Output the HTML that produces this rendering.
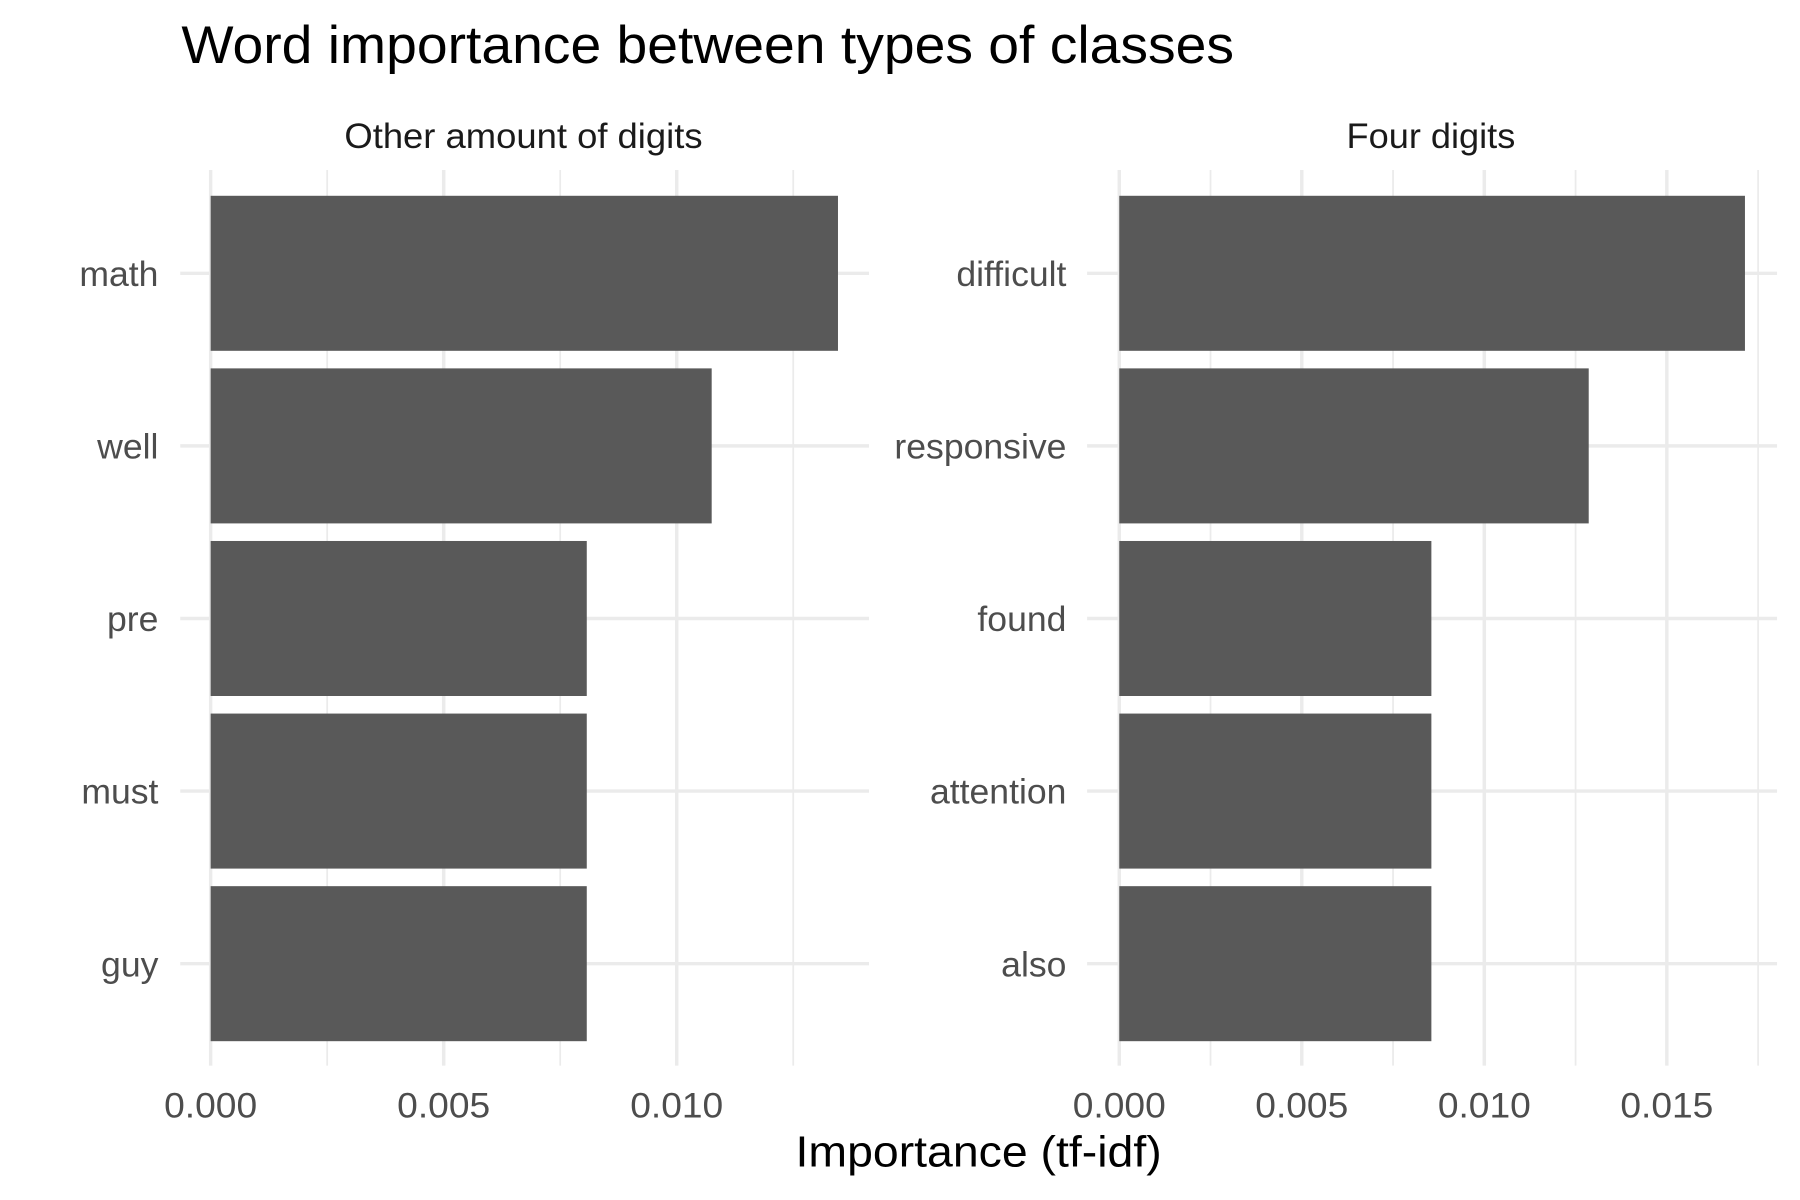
<!DOCTYPE html>
<html><head><meta charset="utf-8"><style>
html,body{margin:0;padding:0;background:#fff;}
svg{display:block;font-family:"Liberation Sans",Arial,sans-serif;}
</style></head><body>
<svg id="chart" width="1800" height="1200" viewBox="0 0 1568 1045" preserveAspectRatio="none" xmlns="http://www.w3.org/2000/svg">
<rect width="1568" height="1045" fill="#fff"/>
<text x="158" y="55" font-size="46" textLength="917" lengthAdjust="spacingAndGlyphs" fill="#000">Word importance between types of classes</text>
<text x="693" y="1016" font-size="38" textLength="319" lengthAdjust="spacingAndGlyphs" fill="#000">Importance (tf-idf)</text>
<g id="panels"></g>
</svg>
<script>
const leftWords = ["math","well","pre","must","guy"];
const leftValues = [0.01346,0.01075,0.00807,0.00807,0.00807];
const rightWords = ["difficult","responsive","found","attention","also"];
const rightValues = [0.01714,0.01286,0.00855,0.00855,0.00855];
const leftTicks = [0,0.005,0.010];
const leftTickLabels = ["0.000","0.005","0.010"];
const rightTicks = [0,0.005,0.010,0.015];
const rightTickLabels = ["0.000","0.005","0.010","0.015"];
const leftMinor = [0.0025,0.0075,0.0125];
const rightMinor = [0.0025,0.0075,0.0125,0.0175];

const NS="http://www.w3.org/2000/svg";
const root=document.getElementById('panels');
function mk(tag,attrs,parent){const e=document.createElementNS(NS,tag);for(const k in attrs)e.setAttribute(k,attrs[k]);parent.appendChild(e);return e;}
const yTop=148,yBot=928,rowY0=238,rowStep=150.3,barH=135;
function yPos(i){return rowY0+i*rowStep;}
function panel(cfg){
  const g=mk('g',{},root);
  
  
  const x=v=>cfg.x0+v*cfg.scale;
  cfg.minor.forEach(v=>{const l=mk('line',{x1:x(v),x2:x(v),y1:yTop,y2:yBot,stroke:'#ebebeb','stroke-width':1.5},g);
    
    });
  cfg.ticks.forEach(v=>{const l=mk('line',{x1:x(v),x2:x(v),y1:yTop,y2:yBot,stroke:'#ebebeb','stroke-width':3},g);
    
    });
  cfg.words.forEach((w,i)=>{const l=mk('line',{x1:cfg.left,x2:cfg.right,y1:yPos(i),y2:yPos(i),stroke:'#ebebeb','stroke-width':3},g);
    
    });
  cfg.values.forEach((v,i)=>{const r=mk('rect',{x:x(0),y:yPos(i)-barH/2,width:x(v)-x(0),height:barH,fill:'#595959'},g);
    
    });
  cfg.words.forEach((w,i)=>{const t=mk('text',{x:cfg.labelX,y:yPos(i)+11,'font-size':31,'text-anchor':'end',fill:'#4d4d4d'},g);t.textContent=w;
    
    });
  cfg.ticks.forEach((v,i)=>{const t=mk('text',{x:x(v)-40.5,y:973,'font-size':31,textLength:81,lengthAdjust:'spacingAndGlyphs',fill:'#4d4d4d'},g);t.textContent=cfg.tickLabels[i];
    
    });
  const s=mk('text',{x:cfg.stripX-cfg.stripW/2,y:129,'font-size':31,textLength:cfg.stripW,lengthAdjust:'spacingAndGlyphs',fill:'#1a1a1a'},g);s.textContent=cfg.strip;
  
  
}
panel({name:'panel-other-digits',x0:183.5,scale:40600,left:157,right:757,labelX:138,words:leftWords,values:leftValues,ticks:leftTicks,tickLabels:leftTickLabels,minor:leftMinor,strip:'Other amount of digits',stripX:456,stripW:312});
panel({name:'panel-four-digits',x0:975,scale:31800,left:947,right:1548,labelX:929,words:rightWords,values:rightValues,ticks:rightTicks,tickLabels:rightTickLabels,minor:rightMinor,strip:'Four digits',stripX:1246.5,stripW:147});
</script>
</body></html>
